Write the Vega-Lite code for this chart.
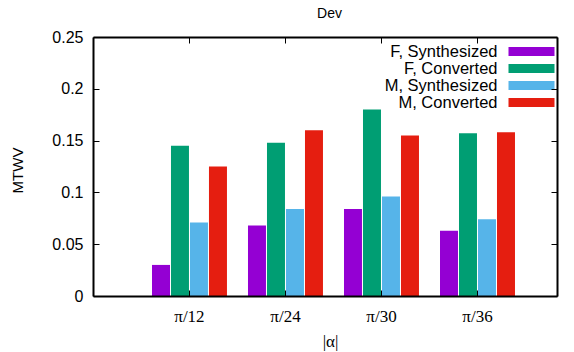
{
  "$schema": "https://vega.github.io/schema/vega-lite/v6.json",
  "width": 464,
  "height": 259,
  "autosize": {"type": "none"},
  "padding": {"left": 93, "top": 37, "right": 17, "bottom": 56},
  "background": "white",
  "config": {"view": {"stroke": null}},
  "data": {"values": [
    {"alpha": "π/12", "series": "F, Synthesized", "mtwv": 0.030},
    {"alpha": "π/12", "series": "F, Converted", "mtwv": 0.145},
    {"alpha": "π/12", "series": "M, Synthesized", "mtwv": 0.071},
    {"alpha": "π/12", "series": "M, Converted", "mtwv": 0.125},
    {"alpha": "π/24", "series": "F, Synthesized", "mtwv": 0.068},
    {"alpha": "π/24", "series": "F, Converted", "mtwv": 0.148},
    {"alpha": "π/24", "series": "M, Synthesized", "mtwv": 0.084},
    {"alpha": "π/24", "series": "M, Converted", "mtwv": 0.160},
    {"alpha": "π/30", "series": "F, Synthesized", "mtwv": 0.084},
    {"alpha": "π/30", "series": "F, Converted", "mtwv": 0.180},
    {"alpha": "π/30", "series": "M, Synthesized", "mtwv": 0.096},
    {"alpha": "π/30", "series": "M, Converted", "mtwv": 0.155},
    {"alpha": "π/36", "series": "F, Synthesized", "mtwv": 0.063},
    {"alpha": "π/36", "series": "F, Converted", "mtwv": 0.157},
    {"alpha": "π/36", "series": "M, Synthesized", "mtwv": 0.074},
    {"alpha": "π/36", "series": "M, Converted", "mtwv": 0.158}
  ]},
  "layer": [
    {
      "mark": {"type": "bar"},
      "encoding": {
        "x": {
          "field": "alpha", "type": "nominal", "sort": null,
          "scale": {"domain": ["π/12", "π/24", "π/30", "π/36"], "paddingInner": 0.219, "paddingOuter": 0.526, "align": 0.584},
          "axis": {
            "orient": "bottom", "zindex": 1, "domain": true, "domainColor": "black", "domainWidth": 2,
            "ticks": true, "tickSize": -6, "tickColor": "black", "tickWidth": 1,
            "labelFont": "Liberation Serif", "labelFontSize": 17, "labelColor": "black", "labelAngle": 0, "labelPadding": 18, "labelBaseline": "top",
            "title": "|α|", "titleFont": "Liberation Serif", "titleFontSize": 17, "titleFontWeight": "normal", "titleColor": "black",
            "titleX": 237, "titleY": 45, "titleBaseline": "middle", "titleAnchor": null
          }
        },
        "xOffset": {
          "field": "series", "type": "nominal", "sort": ["F, Synthesized", "F, Converted", "M, Synthesized", "M, Converted"],
          "scale": {"paddingInner": 0.053, "paddingOuter": 0}
        },
        "y": {
          "field": "mtwv", "type": "quantitative",
          "scale": {"domain": [0, 0.25], "nice": false, "zero": true},
          "axis": {
            "orient": "left", "zindex": 1, "grid": false, "domain": true, "domainColor": "black", "domainWidth": 2,
            "values": [0, 0.05, 0.1, 0.15, 0.2, 0.25], "format": "~g",
            "ticks": true, "tickSize": -6, "tickColor": "black", "tickWidth": 1,
            "labelFont": "Liberation Sans", "labelFontSize": 16, "labelColor": "black", "labelPadding": 16,
            "title": "MTWV", "titleFont": "Liberation Sans", "titleFontSize": 15, "titleFontWeight": "normal", "titleColor": "black",
            "titleX": -76, "titleY": 133, "titleBaseline": "middle", "titleAngle": -90
          }
        },
        "color": {
          "field": "series", "type": "nominal",
          "scale": {"domain": ["F, Synthesized", "F, Converted", "M, Synthesized", "M, Converted"], "range": ["#9400D3", "#009E73", "#56B4E9", "#E51E10"]},
          "legend": {
            "orient": "none", "legendX": 430, "legendY": 6, "direction": "vertical", "title": null,
            "symbolType": "M-2.706,-0.541H2.706V0.541H-2.706Z", "symbolSize": 289, "symbolStrokeWidth": 0, "symbolOpacity": 1,
            "labelAlign": "right", "labelOffset": -42.5, "labelFont": "Liberation Sans", "labelFontSize": 16.5, "labelColor": "black",
            "rowPadding": 0, "labelLimit": 300
          }
        }
      }
    },
    {
      "mark": {"type": "bar", "opacity": 0},
      "encoding": {
        "x": {
          "field": "alpha", "type": "nominal", "sort": null,
          "axis": {"orient": "top", "zindex": 1, "domain": true, "domainColor": "black", "domainWidth": 2, "ticks": true, "tickSize": -6, "tickColor": "black", "tickWidth": 1, "labels": false,
            "title": "Dev", "titleFont": "Liberation Sans", "titleFontSize": 14, "titleFontWeight": "normal", "titleColor": "black",
            "titleX": 236, "titleY": -24, "titleBaseline": "middle", "titleAlign": "center", "titleAnchor": null}
        },
        "y": {
          "field": "mtwv", "type": "quantitative",
          "axis": {"orient": "right", "zindex": 1, "grid": false, "domain": true, "domainColor": "black", "domainWidth": 2, "values": [0, 0.05, 0.1, 0.15, 0.2, 0.25], "ticks": true, "tickSize": -6, "tickColor": "black", "tickWidth": 1, "labels": false, "title": null}
        }
      }
    }
  ],
  "resolve": {"axis": {"x": "independent", "y": "independent"}}
}
